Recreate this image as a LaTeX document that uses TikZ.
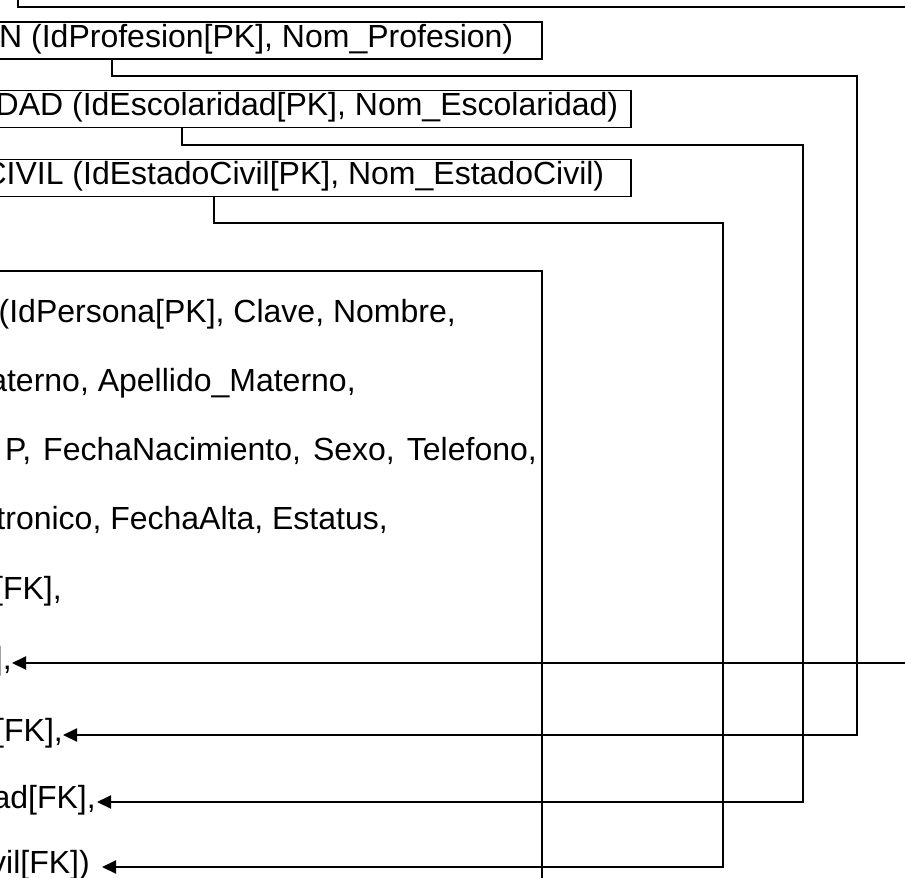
\documentclass[tikz,border=0pt]{standalone}
\usepackage{fontspec}
\setmainfont{Liberation Sans}
\usetikzlibrary{arrows.meta}
\tikzset{
  tabla/.style={draw, line width=1.6pt, anchor=east, inner ysep=0pt, inner xsep=#1,
    text height=25pt, text depth=12pt},
  fila/.style={anchor=east, inner sep=0pt, text height=22.3pt, text depth=8.7pt},
  fk/.style={line width=2pt, -{Triangle[length=14pt,width=13pt]}},
}
\begin{document}
\begin{tikzpicture}[x=1pt, y=-1pt, font=\fontsize{32}{38}\selectfont]
\useasboundingbox (0,0) rectangle (905,878);
\clip (0,0) rectangle (905,878);
\coordinate (municipio) at (18,-20);
\node[tabla=29pt] (profesion) at (543,40.5) {PROFESION (IdProfesion[PK], Nom\_Profesion)};
\node[tabla=13pt] (escolaridad) at (632,109) {ESCOLARIDAD (IdEscolaridad[PK], Nom\_Escolaridad)};
\node[tabla=27pt] (estadocivil) at (632,178) {ESTADOCIVIL (IdEstadoCivil[PK], Nom\_EstadoCivil)};
\node[draw, line width=1.6pt, anchor=north east, inner sep=0pt, minimum width=800pt, minimum height=700pt] (persona) at (543,270) {};
\node[fila] (row1) at (456,316) {PERSONA (IdPersona[PK], Clave, Nombre,};
\node[fila] (row2) at (356,385) {Apellido\_Paterno, Apellido\_Materno,};
\node[fila] (row3) at (537,454) {\spaceskip=12pt P, FechaNacimiento, Sexo, Telefono,};
\node[fila] (row4) at (388,523) {CorreoElectronico, FechaAlta, Estatus,};
\node[fila] (row5) at (62,593) {IdColonia[FK],};
\node[fila] (row6) at (12,663) {IdMunicipio[FK],};
\node[fila] (row7) at (63,735) {IdProfesion[FK],};
\node[fila, inner xsep=1pt] (row8) at (97,802) {IdEscolaridad[FK],};
\node[fila, inner xsep=12pt] (row9) at (102,867) {IdEstadoCivil[FK])};
\draw[fk] (municipio) |- (925,7) |- (row6.east);
\draw[fk] (profesion.south -| 112,0) |- (857,76) |- (row7.east);
\draw[fk] (escolaridad.south -| 182,0) |- (803,145) |- (row8.east);
\draw[fk] (estadocivil.south -| 214,0) |- (723,223) |- (row9.east);
\end{tikzpicture}
\end{document}
